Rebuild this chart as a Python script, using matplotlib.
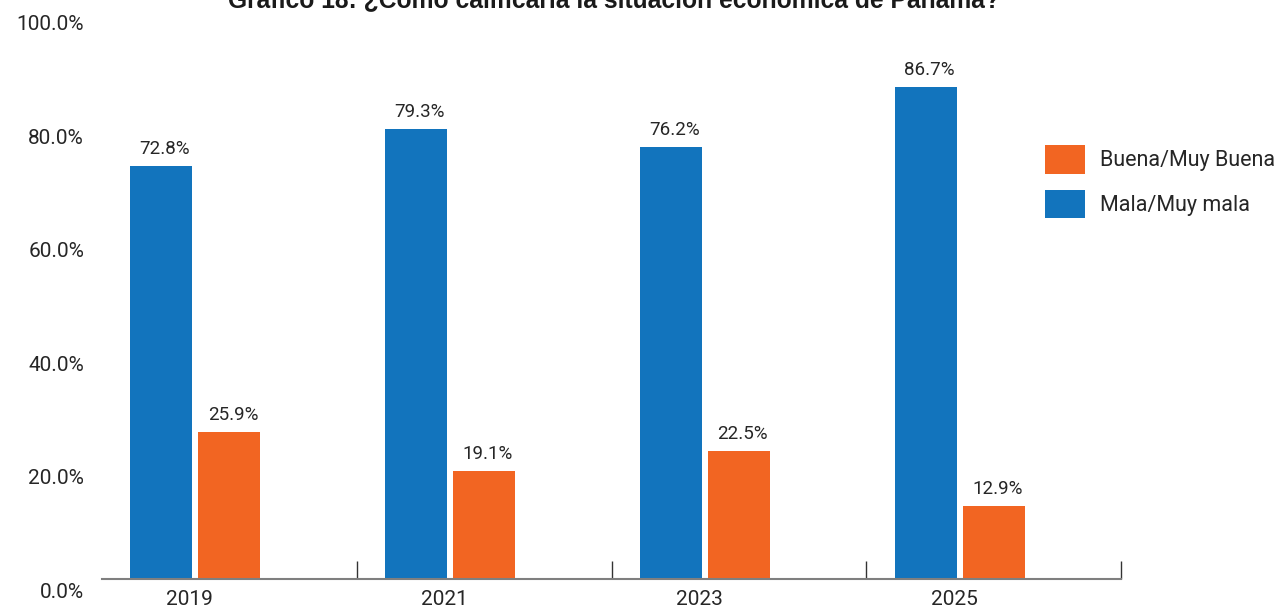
import matplotlib.pyplot as plt
import matplotlib.transforms as mtransforms
import numpy as np

years = ["2019", "2021", "2023", "2025"]
mala = [72.8, 79.3, 76.2, 86.7]      # Mala/Muy mala (blue)
buena = [25.9, 19.1, 22.5, 12.9]     # Buena/Muy Buena (orange)
yticks = [0, 20, 40, 60, 80, 100]

blue = "#1274BD"
orange = "#F26522"
txt = "#262626"

plt.rcParams['font.family'] = ['Roboto', 'DejaVu Sans']

fig = plt.figure(figsize=(12.78, 6.09), dpi=100)
ax = fig.add_axes([102/1278, 30/609, (1121-102)/1278, (579-12)/609])

x = np.arange(len(years))
w = 0.243
b1 = ax.bar(x - 0.267, mala, width=w, color=blue)
b2 = ax.bar(x, buena, width=w, color=orange)

for bars, vals in ((b1, mala), (b2, buena)):
    for r, v in zip(bars, vals):
        ax.text(r.get_x() + r.get_width() - 2/255, r.get_height() + 1.4,
                f"{v:.1f}%", ha='right', va='bottom', fontsize=13.5, color=txt)

ax.set_xlim(-0.5, 3.5)
ax.set_ylim(0, 100)

# y labels sit a bit below their gridline position, like in the source
ax.set_yticks(yticks)
ax.set_yticklabels([])
ax.tick_params(axis='y', length=0)
off = mtransforms.ScaledTranslation(-18/100, -13/100, fig.dpi_scale_trans)
for t in yticks:
    ax.text(0, t, f"{t:.1f}%", transform=ax.get_yaxis_transform() + off,
            ha='right', va='center', fontsize=15, color=txt, clip_on=False)

ax.set_xticks(x - 0.155)
ax.set_xticklabels(years, fontsize=15, color=txt)
ax.tick_params(axis='x', length=0, pad=8)
ax.set_xticks(np.arange(0.5, 4, 1), minor=True)
ax.tick_params(axis='x', which='minor', direction='in', length=13, width=1.0, color='#333333')

for s in ('top', 'right', 'left'):
    ax.spines[s].set_visible(False)
ax.spines['bottom'].set_color('#7f7f7f')
ax.spines['bottom'].set_linewidth(1.5)

leg = fig.legend([b2, b1], ["Buena/Muy Buena", "Mala/Muy mala"],
                 loc='upper left', bbox_to_anchor=(1045/1278, 1 - 145/609),
                 frameon=False, fontsize=15.5, handlelength=1.86, handleheight=1.67,
                 handletextpad=0.7, labelspacing=0.74, borderaxespad=0, borderpad=0)
for t in leg.get_texts():
    t.set_color(txt)

fig.text(614/1278, 1 - 7/609,
         "Gráfico 18: ¿Cómo calificaría la situación económica de Panamá?",
         ha='center', va='baseline', fontsize=17.7, fontweight='bold',
         family='Liberation Sans', color='#1a1a1a')

fig.savefig("out.png", dpi=100)
